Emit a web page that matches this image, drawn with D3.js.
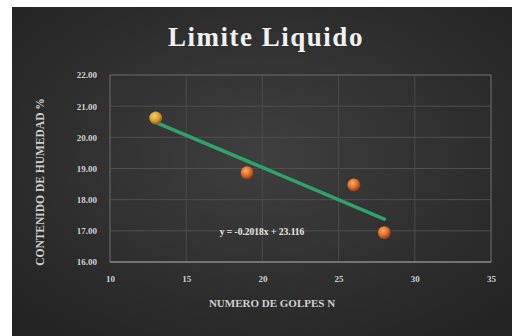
<!DOCTYPE html>
<html><head><meta charset="utf-8">
<script src="https://cdn.jsdelivr.net/npm/d3@7"></script>
<style>html,body{margin:0;padding:0;background:#fff;}svg{display:block;}</style>
</head><body>
<svg id="c" width="512" height="336"></svg>
<script>
const golpes = [13, 19, 26, 28];
const humedad = [20.62, 18.86, 18.47, 16.94];
const xTicks = [10, 15, 20, 25, 30, 35];
const yTicks = [16, 17, 18, 19, 20, 21, 22];
const title = "Limite Liquido";
const xTitle = "NUMERO DE GOLPES  N";
const yTitle = "CONTENIDO DE HUMEDAD %";
const eqText = "y = -0.2018x + 23.116";

const svg = d3.select("#c");
const defs = svg.append("defs");
const bg = defs.append("radialGradient").attr("id","bg").attr("cx","50%").attr("cy","45%").attr("r","70%");
bg.append("stop").attr("offset","0%").attr("stop-color","#3f3f3f");
bg.append("stop").attr("offset","100%").attr("stop-color","#232323");
const mg = defs.append("radialGradient").attr("id","mk").attr("cx","40%").attr("cy","35%").attr("r","65%");
mg.append("stop").attr("offset","0%").attr("stop-color","#f7b35a");
mg.append("stop").attr("offset","60%").attr("stop-color","#d9692a");
mg.append("stop").attr("offset","100%").attr("stop-color","#8f3512");
const mg1 = defs.append("radialGradient").attr("id","mk1").attr("cx","40%").attr("cy","35%").attr("r","65%");
mg1.append("stop").attr("offset","0%").attr("stop-color","#f4d46a");
mg1.append("stop").attr("offset","60%").attr("stop-color","#d89a2c");
mg1.append("stop").attr("offset","100%").attr("stop-color","#8f5a12");

svg.append("rect").attr("x",12).attr("y",7).attr("width",500).attr("height",329).attr("fill","url(#bg)");

const L=110, R=491, T=75, B=262;
const x = d3.scaleLinear().domain([10,35]).range([L,R]);
const y = d3.scaleLinear().domain([16,22]).range([B,T]);

const g = svg.append("g");
g.selectAll(".gy").data(yTicks).join("line")
  .attr("x1",L).attr("x2",R).attr("y1",d=>y(d)).attr("y2",d=>y(d))
  .attr("stroke","#4f4f4f").attr("stroke-width",1);
g.selectAll(".gx").data(xTicks).join("line")
  .attr("y1",T).attr("y2",B).attr("x1",d=>x(d)).attr("x2",d=>x(d))
  .attr("stroke","#4c4c4c").attr("stroke-width",1);
g.append("rect").attr("x",L).attr("y",T).attr("width",R-L).attr("height",B-T)
  .attr("fill","none").attr("stroke","#606060").attr("stroke-width",1);
g.append("line").attr("x1",L).attr("x2",R).attr("y1",B).attr("y2",B).attr("stroke","#808080").attr("stroke-width",1.5);

const font = "'Liberation Serif','DejaVu Serif',serif";
const yAxis = d3.axisLeft(y).tickValues(yTicks).tickFormat(d3.format(".2f")).tickSize(0).tickPadding(13);
const ya = svg.append("g").attr("transform",`translate(${L},0)`).call(yAxis);
ya.select(".domain").remove();
ya.selectAll("text").attr("fill","#d0d0d0").attr("font-family",font).attr("font-size",9).attr("font-weight","bold");
const xAxis = d3.axisBottom(x).tickValues(xTicks).tickSize(0).tickPadding(14);
const xa = svg.append("g").attr("transform",`translate(0,${B})`).call(xAxis);
xa.select(".domain").remove();
xa.selectAll("text").attr("fill","#d0d0d0").attr("font-family",font).attr("font-size",9).attr("font-weight","bold");

const mx=d3.mean(golpes), my=d3.mean(humedad);
let sxy=0,sxx=0; golpes.forEach((v,i)=>{sxy+=(v-mx)*(humedad[i]-my); sxx+=(v-mx)*(v-mx);});
const slope=sxy/sxx, icpt=my-slope*mx;
const x0=d3.min(golpes), x1=d3.max(golpes);
svg.append("line").attr("x1",x(x0)).attr("y1",y(slope*x0+icpt)).attr("x2",x(x1)).attr("y2",y(slope*x1+icpt))
  .attr("stroke","#2fa36b").attr("stroke-width",3.5).attr("stroke-linecap","round");

svg.selectAll(".pt").data(golpes).join("circle")
  .attr("cx",d=>x(d)).attr("cy",(d,i)=>y(humedad[i])).attr("r",6.5)
  .attr("fill",(d,i)=>i===0?"url(#mk1)":"url(#mk)");

svg.append("text").attr("x",262).attr("y",235).attr("text-anchor","middle")
  .attr("fill","#e6e6e6").attr("font-family",font).attr("font-size",9.5).attr("font-weight","bold").text(eqText);

svg.append("text").attr("x",266).attr("y",46).attr("text-anchor","middle")
  .attr("fill","#f2f2f2").attr("font-family",font).attr("font-size",27).attr("font-weight","bold")
  .attr("letter-spacing",1.5).text(title);
svg.append("text").attr("x",272).attr("y",307).attr("text-anchor","middle")
  .attr("fill","#d0d0d0").attr("font-family",font).attr("font-size",11).attr("font-weight","bold").text(xTitle);
svg.append("text").attr("transform",`translate(44,182) rotate(-90)`).attr("text-anchor","middle")
  .attr("fill","#d0d0d0").attr("font-family",font).attr("font-size",11.5).attr("font-weight","bold").text(yTitle);
</script>
</body></html>
